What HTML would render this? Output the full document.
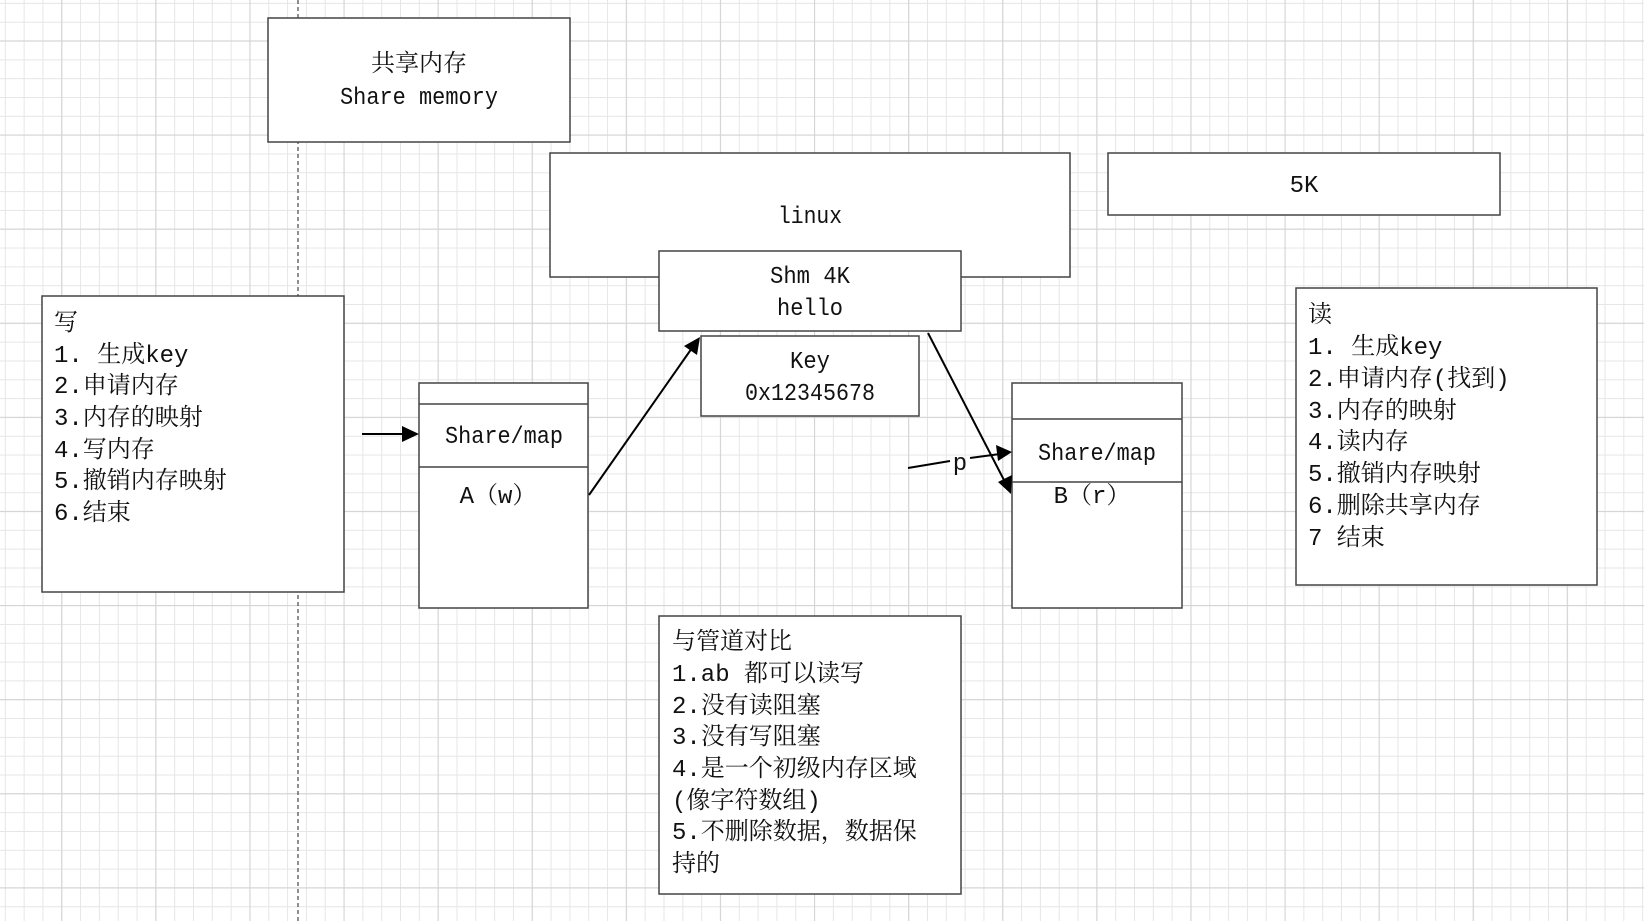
<!DOCTYPE html>
<html><head><meta charset="utf-8"><style>
html,body{margin:0;padding:0;background:#fff;}
svg{display:block;}
text{font-family:"Liberation Mono","Noto Serif CJK SC",monospace;font-size:24px;fill:#111;}
.c{text-anchor:middle;}
</style></head><body>
<svg width="1644" height="921" viewBox="0 0 1644 921" xmlns="http://www.w3.org/2000/svg">
<defs>
<pattern id="mi" x="4.8" y="2.9" width="18.82" height="18.82" patternUnits="userSpaceOnUse">
<path d="M0.5 0V18.82M0 0.5H18.82" stroke="#e6e6e6" stroke-width="1" fill="none"/>
</pattern>
<pattern id="ma" x="61.2" y="40.4" width="94.1" height="94.1" patternUnits="userSpaceOnUse">
<path d="M0.5 0V94.1M0 0.5H94.1" stroke="#d4d4d4" stroke-width="1.2" fill="none"/>
</pattern>
</defs>
<rect width="1644" height="921" fill="#fff"/>
<rect width="1644" height="921" fill="url(#mi)"/>
<rect width="1644" height="921" fill="url(#ma)"/>
<line x1="298" y1="0" x2="298" y2="921" stroke="#555" stroke-width="1.3" stroke-dasharray="4,3"/>
<g fill="#fff" stroke="#444" stroke-width="1.5">
<rect x="268" y="18" width="302" height="124"/>
<rect x="550" y="153" width="520" height="124"/>
<rect x="1108" y="153" width="392" height="62"/>
<rect x="659" y="251" width="302" height="80"/>
<rect x="701" y="336" width="218" height="80"/>
<rect x="42" y="296" width="302" height="296"/>
<rect x="419" y="383" width="169" height="225"/>
<line x1="419" y1="404" x2="588" y2="404"/>
<line x1="419" y1="467" x2="588" y2="467"/>
<rect x="1012" y="383" width="170" height="225"/>
<line x1="1012" y1="419" x2="1182" y2="419"/>
<line x1="1012" y1="482" x2="1182" y2="482"/>
<rect x="1296" y="288" width="301" height="297"/>
<rect x="659" y="616" width="302" height="278"/>
</g>
<g stroke="#000" stroke-width="2" fill="none">
<line x1="362" y1="434" x2="405" y2="434"/>
<line x1="589" y1="495" x2="692" y2="348"/>
<line x1="928" y1="333" x2="1005" y2="482"/>
<line x1="908" y1="468" x2="950" y2="461"/>
<line x1="970" y1="458" x2="1000" y2="454"/>
</g>
<g fill="#000">
<polygon points="419,434 402,426 402,442"/>
<polygon points="700,337 684,346 697,355"/>
<polygon points="1011,494 998,482 1012,475"/>
<polygon points="1012,452 996,445 998,461"/>
</g>
<text x="960" y="470" class="c" style="font-size:24px">p</text>
<text x="419" y="71" class="c">共享内存</text>
<text x="419" y="104" class="c" textLength="158" lengthAdjust="spacingAndGlyphs">Share memory</text>
<text x="810" y="223" class="c" textLength="64" lengthAdjust="spacingAndGlyphs">linux</text>
<text x="1304" y="192" class="c">5K</text>
<text x="810" y="283" class="c" textLength="80" lengthAdjust="spacingAndGlyphs">Shm 4K</text>
<text x="810" y="315" class="c" textLength="66" lengthAdjust="spacingAndGlyphs">hello</text>
<text x="810" y="368" class="c" textLength="40" lengthAdjust="spacingAndGlyphs">Key</text>
<text x="810" y="400" class="c" textLength="130" lengthAdjust="spacingAndGlyphs">0x12345678</text>
<text x="504" y="443" class="c" textLength="118" lengthAdjust="spacingAndGlyphs">Share/map</text>
<text x="498" y="503" class="c">A（w）</text>
<text x="1097" y="460" class="c" textLength="118" lengthAdjust="spacingAndGlyphs">Share/map</text>
<text x="1092" y="503" class="c">B（r）</text>
<g>
<text x="54" y="330">写</text>
<text x="54" y="362">1.  生成key</text>
<text x="54" y="393">2.申请内存</text>
<text x="54" y="425">3.内存的映射</text>
<text x="54" y="457">4.写内存</text>
<text x="54" y="488">5.撤销内存映射</text>
<text x="54" y="520">6.结束</text>
</g>
<g>
<text x="1308" y="322">读</text>
<text x="1308" y="354">1.  生成key</text>
<text x="1308" y="386">2.申请内存(找到)</text>
<text x="1308" y="418">3.内存的映射</text>
<text x="1308" y="449">4.读内存</text>
<text x="1308" y="481">5.撤销内存映射</text>
<text x="1308" y="513">6.删除共享内存</text>
<text x="1308" y="545">7 结束</text>
</g>
<g>
<text x="672" y="649">与管道对比</text>
<text x="672" y="681">1.ab 都可以读写</text>
<text x="672" y="713">2.没有读阻塞</text>
<text x="672" y="744">3.没有写阻塞</text>
<text x="672" y="776">4.是一个初级内存区域</text>
<text x="672" y="808">(像字符数组)</text>
<text x="672" y="839">5.不删除数据，数据保</text>
<text x="672" y="871">持的</text>
</g>
</svg>
</body></html>
